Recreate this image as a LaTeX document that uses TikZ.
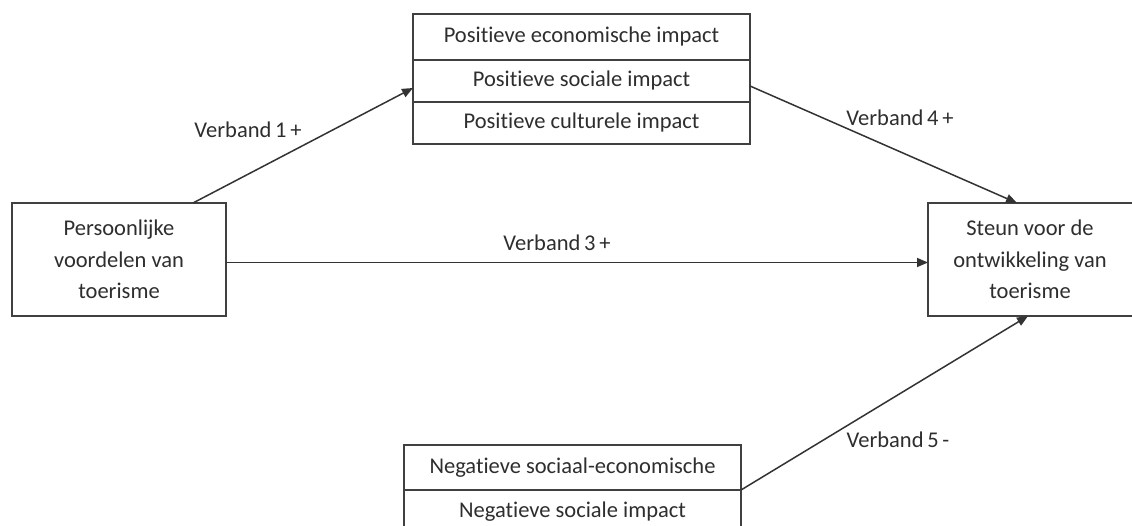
\documentclass[tikz,border=0pt]{standalone}
\usepackage{fontspec}
\setmainfont[Ligatures=NoCommon]{Carlito}
\usetikzlibrary{calc,arrows.meta}
\tikzset{
  box/.style={draw=black!75, line width=1.8pt, fill=white, inner sep=0pt, outer sep=0pt, text=black!82, align=center, font=\fontsize{22.5}{31.5}\selectfont},
  conn/.style={draw=black!80, line width=1.5pt, -{Triangle[length=11pt,width=9pt]}},
  lbl/.style={text=black!82, font=\fontsize{22.5}{26}\selectfont, inner sep=0pt}
}
\begin{document}
\begin{tikzpicture}[x=1pt,y=-1pt]
\useasboundingbox (0,0) rectangle (1132,526);
\clip (0,0) rectangle (1132,526);
\node[box, minimum width=337pt, minimum height=46pt] (top1) at (581.5,37) {Positieve economische impact};
\node[box, minimum width=337pt, minimum height=42pt] (top2) at (581.5,81) {Positieve sociale impact};
\node[box, minimum width=337pt, minimum height=42pt] (top3) at (581.5,123) {Positieve culturele impact};
\node[box, minimum width=214pt, minimum height=113pt] (left) at (119,259.5) {Persoonlijke\\voordelen van\\toerisme};
\node[box, minimum width=212pt, minimum height=113pt] (right) at (1034,259.5) {\hspace*{-8pt}Steun voor de\\\hspace*{-8pt}ontwikkeling van\\\hspace*{-8pt}toerisme};
\node[box, minimum width=337pt, minimum height=45pt] (bot1) at (572.5,467.5) {Negatieve sociaal-economische};
\node[box, minimum width=337pt, minimum height=50pt, anchor=north] (bot2) at (bot1.south) {\raisebox{10pt}{Negatieve sociale impact}};
\coordinate (v1s) at ($(left.north)+(74,0)$);
\coordinate (v1e) at ($(top2.west)+(0,7)$);
\coordinate (v4s) at ($(top2.east)+(0,5)$);
\coordinate (v4e) at ($(right.north)+(-17,0)$);
\coordinate (v3s) at ($(left.east)+(0,3)$);
\coordinate (v3e) at ($(right.west)+(0,3)$);
\coordinate (v5e) at ($(right.south)+(-6,0)$);
\draw[conn] (v1s) -- (v1e);
\draw[conn] (v4s) -- (v4e);
\draw[conn] (v3s) -- (v3e);
\draw[conn] (bot1.south east) -- (v5e);
\node[lbl] (l1) at (248,130) {Verband\,1\,+};
\node[lbl] (l4) at (900,118) {Verband\,4\,+};
\node[lbl] (l3) at (557,243) {Verband\,3\,+};
\node[lbl] (l5) at (898,440) {Verband\,5\,-};
\end{tikzpicture}
\end{document}
